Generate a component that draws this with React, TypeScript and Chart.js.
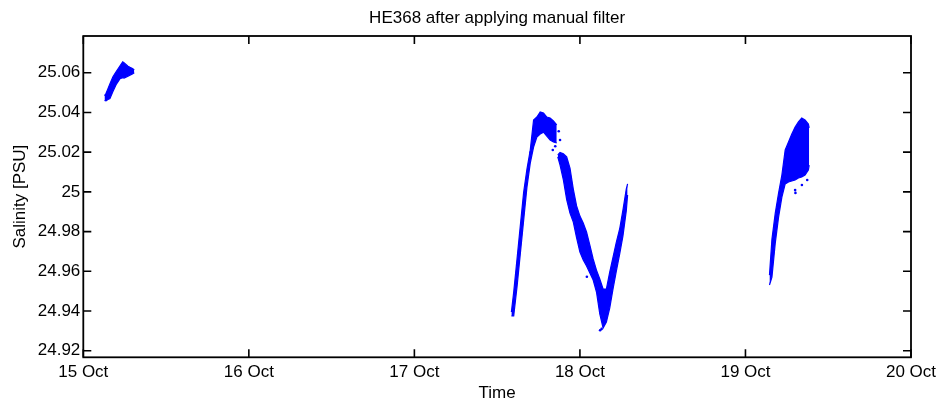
import { useEffect, useRef } from 'react';
import { Chart, registerables } from 'chart.js';

Chart.register(...registerables);

// ---- data (day of October, salinity in PSU) ----
const titleText = 'HE368 after applying manual filter';
const xTitle = 'Time';
const yTitle = 'Salinity [PSU]';
const xTickDays = [15, 16, 17, 18, 19, 20];
const yTicks = [24.92, 24.94, 24.96, 24.98, 25, 25.02, 25.04, 25.06];
const xMin = 15;
const xMax = 20;
const yMin = 24.9167;
const yMax = 25.0785;

// segment 1: 15 Oct (upper / lower envelope of the point cloud)
const seg1Day = [15.128, 15.137, 15.149, 15.161, 15.179, 15.198, 15.21, 15.222, 15.238, 15.246, 15.258, 15.27, 15.282, 15.294, 15.308];
const seg1Hi = [25.0485, 25.0495, 25.052, 25.0545, 25.058, 25.0605, 25.062, 25.0635, 25.0655, 25.065, 25.0642, 25.0633, 25.0627, 25.0622, 25.0615];
const seg1Lo = [25.046, 25.0458, 25.0465, 25.047, 25.0505, 25.054, 25.0555, 25.057, 25.0575, 25.0573, 25.0578, 25.0582, 25.0588, 25.0592, 25.06];

// segment 2a: 17.6 Oct rise and peak
const seg2aDay = [17.586, 17.6, 17.62, 17.64, 17.66, 17.68, 17.7, 17.72, 17.74, 17.76, 17.78, 17.8, 17.82, 17.84, 17.86];
const seg2aHi = [24.9395, 24.9496, 24.9662, 24.9831, 24.9998, 25.0115, 25.0211, 25.0362, 25.0377, 25.0402, 25.0397, 25.0377, 25.0372, 25.0357, 25.0337];
const seg2aLo = [24.9375, 24.9375, 24.9521, 24.9689, 24.9856, 25.0024, 25.0145, 25.0226, 25.0276, 25.0291, 25.0301, 25.0281, 25.0261, 25.0251, 25.0246];

// segment 2b: fall to 18.1 Oct minimum and rise again
const seg2bDay = [17.866, 17.88, 17.9, 17.92, 17.94, 17.96, 17.98, 18.0, 18.02, 18.04, 18.06, 18.08, 18.1, 18.12, 18.14, 18.16, 18.18, 18.2, 18.22, 18.24, 18.26, 18.28, 18.288];
const seg2bHi = [25.0186, 25.0198, 25.0192, 25.0176, 25.012, 25.0014, 24.9929, 24.9878, 24.9843, 24.9798, 24.9732, 24.9662, 24.9606, 24.9561, 24.9511, 24.9511, 24.9596, 24.9672, 24.9747, 24.9813, 24.9909, 25.0014, 25.004];
const seg2bLo = [25.0176, 25.0135, 25.006, 24.9961, 24.9893, 24.9848, 24.9768, 24.9697, 24.9657, 24.9627, 24.9591, 24.9556, 24.9496, 24.9385, 24.9314, 24.9345, 24.9415, 24.9511, 24.9601, 24.9687, 24.9778, 24.9904, 24.9984];

// segment 3: 19.1 – 19.4 Oct
const seg3Day = [19.145, 19.16, 19.18, 19.2, 19.22, 19.24, 19.26, 19.28, 19.3, 19.32, 19.34, 19.36, 19.38, 19.385];
const seg3Hi = [24.9581, 24.9763, 24.9893, 24.9994, 25.0085, 25.0211, 25.0251, 25.0291, 25.0327, 25.0352, 25.0372, 25.0362, 25.0342, 25.0322];
const seg3Lo = [24.9531, 24.9571, 24.9742, 24.9873, 24.9974, 25.004, 25.005, 25.0055, 25.006, 25.007, 25.0075, 25.0085, 25.011, 25.0135];

// scattered single samples
const looseDay = [17.703, 17.836, 17.88, 17.872, 17.851, 18.042, 18.122, 18.131, 19.3, 19.302, 19.341, 19.373];
const looseSal = [25.02, 25.0211, 25.0261, 25.0305, 25.023, 24.9573, 24.9303, 24.931, 25.0009, 24.9995, 25.0035, 25.006];

const BLUE = '#0000ff';
const FONT = "'Liberation Sans', Arial, Helvetica, sans-serif";

function pts(days: number[], vals: number[]) {
  return days.map((d, i) => ({ x: d, y: vals[i] }));
}

function band(days: number[], hi: number[], lo: number[]) {
  const common = {
    type: 'line' as const,
    borderColor: BLUE,
    backgroundColor: BLUE,
    borderWidth: 1.2,
    pointRadius: 0,
    tension: 0,
  };
  return [
    { ...common, data: pts(days, hi), fill: '+1' },
    { ...common, data: pts(days, lo), fill: false },
  ];
}

const framePlugin = {
  id: 'matlabFrame',
  afterDatasetsDraw(chart: any) {
    const { ctx, chartArea } = chart;
    const { left, right, top, bottom } = chartArea;
    const xs = chart.scales.x;
    const ys = chart.scales.y;
    const len = 8;
    ctx.save();
    ctx.strokeStyle = '#000';
    ctx.lineWidth = 1.6;
    ctx.beginPath();
    xs.ticks.forEach((t: any) => {
      const px = xs.getPixelForValue(t.value);
      ctx.moveTo(px, bottom);
      ctx.lineTo(px, bottom - len);
      ctx.moveTo(px, top);
      ctx.lineTo(px, top + len);
    });
    ys.ticks.forEach((t: any) => {
      const py = ys.getPixelForValue(t.value);
      ctx.moveTo(left, py);
      ctx.lineTo(left + len, py);
      ctx.moveTo(right, py);
      ctx.lineTo(right - len, py);
    });
    ctx.stroke();
    ctx.lineWidth = 1.8;
    ctx.strokeRect(left, top, right - left, bottom - top);
    ctx.restore();
  },
};

export default function App() {
  const ref = useRef<HTMLCanvasElement | null>(null);

  useEffect(() => {
    if (!ref.current) return;
    const datasets: any[] = [
      ...band(seg1Day, seg1Hi, seg1Lo),
      ...band(seg2aDay, seg2aHi, seg2aLo),
      ...band(seg2bDay, seg2bHi, seg2bLo),
      ...band(seg3Day, seg3Hi, seg3Lo),
      {
        type: 'scatter',
        data: pts(looseDay, looseSal),
        showLine: false,
        pointRadius: 1.3,
        pointBorderWidth: 0,
        pointBackgroundColor: BLUE,
        backgroundColor: BLUE,
        borderColor: BLUE,
      },
    ];

    const chart = new Chart(ref.current, {
      type: 'line',
      data: { datasets },
      plugins: [framePlugin],
      options: {
        animation: false,
        responsive: false,
        events: [],
        layout: { padding: { left: 0, right: 32, top: 0, bottom: 0 } },
        plugins: {
          legend: { display: false },
          tooltip: { enabled: false },
          title: {
            display: true,
            fullSize: false,
            text: titleText,
            color: '#000',
            font: { family: FONT, size: 17, weight: 'normal', lineHeight: 1.2 },
            padding: { top: 8, bottom: 7.6 },
          },
        },
        scales: {
          x: {
            type: 'linear',
            min: xMin,
            max: xMax,
            afterBuildTicks: (s: any) => {
              s.ticks = xTickDays.map((v) => ({ value: v }));
            },
            afterFit: (s: any) => {
              s.height = 48.7;
            },
            grid: { display: false, drawTicks: false },
            border: { display: false },
            ticks: {
              color: '#000',
              padding: 4.5,
              maxRotation: 0,
              autoSkip: false,
              font: { family: FONT, size: 17, lineHeight: 1.2 },
              callback: (v: any) => `${v} Oct`,
            },
            title: {
              display: true,
              text: xTitle,
              color: '#000',
              font: { family: FONT, size: 17, lineHeight: 1.2 },
              padding: { top: 0, bottom: 2.8 },
            },
          },
          y: {
            type: 'linear',
            min: yMin,
            max: yMax,
            afterBuildTicks: (s: any) => {
              s.ticks = yTicks.map((v) => ({ value: v }));
            },
            afterFit: (s: any) => {
              s.width = 83.3;
            },
            grid: { display: false, drawTicks: false },
            border: { display: false },
            ticks: {
              color: '#000',
              padding: 3,
              autoSkip: false,
              font: { family: FONT, size: 17, lineHeight: 1.2 },
              callback: (v: any) => String(Number(Number(v).toFixed(2))),
            },
            title: {
              display: true,
              text: yTitle,
              color: '#000',
              font: { family: FONT, size: 17, lineHeight: 1.2 },
              padding: { top: 10.5, bottom: 0 },
            },
          },
        },
      },
    });
    return () => chart.destroy();
  }, []);

  return (
    <div style={{ position: 'fixed', left: 0, top: 0, width: 943, height: 406, background: '#fff' }}>
      <canvas ref={ref} width={943} height={406} style={{ display: 'block' }} />
    </div>
  );
}
